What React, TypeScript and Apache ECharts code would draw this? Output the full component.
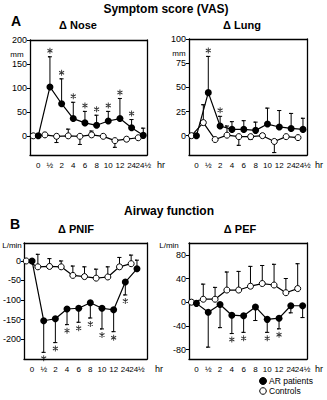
import React, { useEffect, useRef } from "react";
import * as echarts from "echarts";

const categories = ["0", "½", "2", "4", "6", "8", "10", "12", "24", "24½"];

// Δ Nose (mm)
const noseAR = [0, 102, 67, 36, 27, 22, 31, 36, 17, 1];
const noseARErr = [null, 165, 119, 70, 51, 43, 51, 78, 34, 16];
const noseCtrl = [0, 2, -1, 0, -1, 2, -1, -10, -7, -4];
const noseCtrlErr = [null, 7, -14, 14, -18, 10, null, -24, null, null];
const noseStars = [0, 1, 1, 1, 1, 1, 1, 1, 1, 0];

// Δ Lung (mm)
const lungAR = [0, 44.5, 10, 6.5, 6.5, 5.5, 12, 9, 7.5, 6.5];
const lungARErr = [null, 82, 20, 14.5, 15.5, 14, 28.5, 26, 23, 18];
const lungCtrl = [0, 13.5, -4, 0.5, -1, -1, 0, -6, -1, -2];
const lungCtrlErr = [null, 32, null, 10, -10, -4, null, -17.5, null, -4];
const lungStars = [0, 1, 1, 0, 0, 0, 0, 0, 0, 0];

// Δ PNIF (L/min)
const pnifAR = [0, -153, -148, -123, -121, -107, -121, -125, -54, -20];
const pnifARErr = [null, -234, -209, -163, -157, -146, -174, -181, -87, 2];
const pnifCtrl = [0, -15, -14, -15, -37, -40, -44, -41, -15, -7];
const pnifCtrlErr = [null, 17, 6, 0, -13, -15, -21, -15, 9, 15];
const pnifStars = [0, 1, 1, 1, 1, 1, 1, 1, 1, 0];

// Δ PEF (L/min)
const pefAR = [-2, -17, -4, -22, -23, -8, -29, -27, -6, -6];
const pefARErr = [null, -76, -43, -53, -51, -31, -51, -45, -18, -26];
const pefCtrl = [0, 5, 5, 20.5, 20.5, 27, 31.5, 29, 16, 23];
const pefCtrlErr = [null, 30.5, 25, 51, 52, 60.5, 62, 64, 40, 65];
const pefStars = [0, 0, 0, 1, 1, 0, 1, 1, 0, 0];

const FONT = "Liberation Sans, Arial, Helvetica, sans-serif";
const STAR_PATH = "path://M5,0L5,10M0.67,2.5L9.33,7.5M0.67,7.5L9.33,2.5";

type Panel = {
  ar: number[];
  arErr: (number | null)[];
  ctrl: number[];
  ctrlErr: (number | null)[];
  stars: number[];
  starDir: number;
  yMin: number;
  yMax: number;
  yTicks: number[];
  grid: { left: number; top: number; width: number; height: number };
  xMin: number;
  xMax: number;
  ctrlShift: number;
};

// x positions are category index + 1
const panels: Panel[] = [
  {
    ar: noseAR, arErr: noseARErr, ctrl: noseCtrl, ctrlErr: noseCtrlErr, stars: noseStars, starDir: -1,
    yMin: -40, yMax: 200, yTicks: [0, 50, 100, 150, 200],
    grid: { left: 30, top: 40, width: 117, height: 115 }, xMin: 0.29, xMax: 10.32, ctrlShift: -0.43,
  },
  {
    ar: lungAR, arErr: lungARErr, ctrl: lungCtrl, ctrlErr: lungCtrlErr, stars: lungStars, starDir: -1,
    yMin: -20, yMax: 100, yTicks: [0, 25, 50, 75, 100],
    grid: { left: 189, top: 39, width: 118, height: 116 }, xMin: 0.37, xMax: 10.34, ctrlShift: -0.42,
  },
  {
    ar: pnifAR, arErr: pnifARErr, ctrl: pnifCtrl, ctrlErr: pnifCtrlErr, stars: pnifStars, starDir: 1,
    yMin: -251, yMax: 46, yTicks: [-200, -150, -100, -50, 0],
    grid: { left: 24, top: 243, width: 123, height: 116 }, xMin: 0.31, xMax: 10.86, ctrlShift: -0.5,
  },
  {
    ar: pefAR, arErr: pefARErr, ctrl: pefCtrl, ctrlErr: pefCtrlErr, stars: pefStars, starDir: 1,
    yMin: -96, yMax: 100, yTicks: [-80, -40, 0, 40, 80],
    grid: { left: 189, top: 243, width: 118, height: 116 }, xMin: 0.37, xMax: 10.37, ctrlShift: -0.42,
  },
];

export default function App() {
  const ref = useRef<HTMLDivElement>(null);
  useEffect(() => {
    document.body.style.margin = "0";
    const chart = echarts.init(ref.current!, null, { renderer: "svg" });
    const grid: any[] = [];
    const xAxis: any[] = [];
    const yAxis: any[] = [];
    const series: any[] = [];
    const labelPos = categories.map((_, i) => i + 1);
    // last label listed first so the end-label overlap rule keeps both "24" and "24½"
    const labelOrder = [labelPos[labelPos.length - 1], ...labelPos.slice(0, -1)];
    const boxLine = { show: true, onZero: false, lineStyle: { color: "#000", width: 1.3 } };
    const cap = 0.17;
    panels.forEach((p, k) => {
      grid.push({ ...p.grid, show: false, outerBoundsMode: "none" });
      xAxis.push({
        type: "value", gridIndex: k, position: "bottom", min: p.xMin, max: p.xMax,
        axisLine: boxLine, axisTick: { show: false }, splitLine: { show: false },
        axisLabel: {
          customValues: labelOrder,
          formatter: (v: number) => categories[Math.round(v) - 1] ?? "",
          fontSize: 8, fontFamily: FONT, color: "#000", margin: 6, hideOverlap: false,
        },
      });
      xAxis.push({
        type: "value", gridIndex: k, position: "top", min: p.xMin, max: p.xMax,
        axisLine: boxLine, axisTick: { show: false }, axisLabel: { show: false }, splitLine: { show: false },
      });
      yAxis.push({
        type: "value", gridIndex: k, position: "left", min: p.yMin, max: p.yMax,
        axisLine: boxLine,
        axisTick: { show: true, customValues: p.yTicks, length: 3, lineStyle: { color: "#000" } },
        splitLine: { show: false },
        axisLabel: { customValues: p.yTicks, fontSize: 9, fontFamily: FONT, color: "#000", margin: 3, hideOverlap: false },
      });
      yAxis.push({
        type: "value", gridIndex: k, position: "right", min: p.yMin, max: p.yMax,
        axisLine: boxLine, axisTick: { show: false }, axisLabel: { show: false }, splitLine: { show: false },
      });
      const xi = 2 * k;
      const yi = 2 * k;
      const addErr = (x: number, mean: number, e: number) => {
        series.push({
          type: "line", xAxisIndex: xi, yAxisIndex: yi, symbol: "none", silent: true, z: 1,
          lineStyle: { color: "#000", width: 1 },
          data: [[x, mean], [x, e], [x - cap, e], [x + cap, e]],
        });
      };
      p.arErr.forEach((e, i) => { if (e !== null) addErr(i + 1, p.ar[i], e); });
      p.ctrlErr.forEach((e, i) => { if (e !== null) addErr(i + 1 + p.ctrlShift, p.ctrl[i], e); });
      const starData: any[] = [];
      p.stars.forEach((s, i) => { if (s && p.arErr[i] !== null) starData.push([i + 1, p.arErr[i]]); });
      series.push({
        type: "scatter", xAxisIndex: xi, yAxisIndex: yi, data: starData, silent: true, z: 2,
        symbol: STAR_PATH, symbolSize: [5, 6], symbolOffset: [0, p.starDir < 0 ? -6 : 6],
        itemStyle: { color: "none", borderColor: "#000", borderWidth: 1 },
      });
      series.push({
        type: "line", name: "Controls", xAxisIndex: xi, yAxisIndex: yi,
        data: p.ctrl.map((v, i) => [i + 1 + p.ctrlShift, v]),
        symbol: "circle", symbolSize: 6,
        lineStyle: { color: "#000", width: 1.2 },
        itemStyle: { color: "#fff", borderColor: "#000", borderWidth: 1 },
        z: 3,
      });
      series.push({
        type: "line", name: "AR patients", xAxisIndex: xi, yAxisIndex: yi,
        data: p.ar.map((v, i) => [i + 1, v]),
        symbol: "circle", symbolSize: 7,
        lineStyle: { color: "#000", width: 1.2 },
        itemStyle: { color: "#000", borderColor: "#000", borderWidth: 0 },
        z: 4,
      });
    });

    const txt = (text: string, x: number, y: number, size: number, bold: boolean, align = "center") => ({
      type: "text", x, y,
      style: { text, align, verticalAlign: "middle", font: `${bold ? "bold " : ""}${size}px ${FONT}`, fill: "#000" },
    });

    const graphic: any[] = [
      txt("Symptom score (VAS)", 166, 9, 12, true),
      txt("A", 11, 21, 14, true, "left"),
      txt("Δ Nose", 78, 25, 11, true),
      txt("Δ Lung", 242, 25, 11, true),
      txt("mm", 17, 54, 8, false),
      txt("mm", 179, 53, 8, false),
      txt("hr", 157, 165, 9, false, "left"),
      txt("hr", 315, 165, 9, false, "left"),
      txt("Airway function", 169, 211, 12, true),
      txt("B", 10, 224, 14, true, "left"),
      txt("Δ PNIF", 76, 229, 11, true),
      txt("Δ PEF", 240, 229, 11, true),
      txt("L/min", 12, 245, 8, false),
      txt("L/min", 169, 245, 8, false),
      txt("hr", 155, 369, 9, false, "left"),
      txt("hr", 315, 369, 9, false, "left"),
      { type: "circle", shape: { cx: 263, cy: 381, r: 3.5 }, style: { fill: "#000", stroke: "#000" } },
      { type: "circle", shape: { cx: 263, cy: 391, r: 3.3 }, style: { fill: "#fff", stroke: "#000", lineWidth: 1 } },
      txt("AR patients", 269, 381, 8.5, false, "left"),
      txt("Controls", 269, 391, 8.5, false, "left"),
    ];

    chart.setOption({ animation: false, backgroundColor: "#fff", grid, xAxis, yAxis, series, graphic });
    return () => chart.dispose();
  }, []);
  return <div ref={ref} style={{ width: 327, height: 400 }} />;
}
